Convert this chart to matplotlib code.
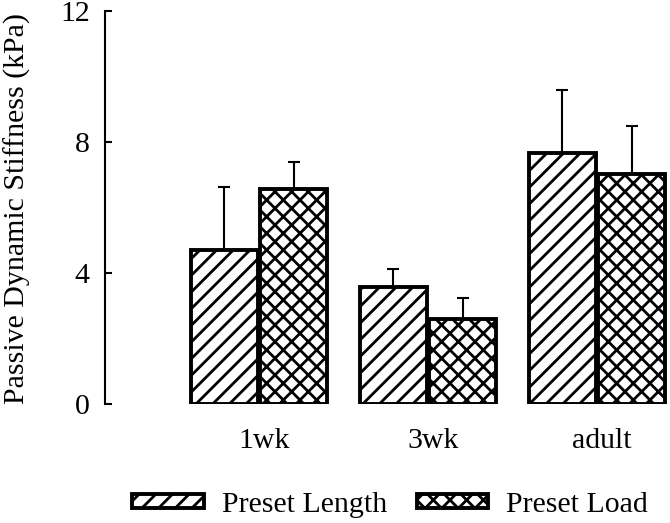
import matplotlib
matplotlib.use("Agg")
import matplotlib.pyplot as plt
import numpy as np

categories = ["1wk", "3wk", "adult"]
length_vals = [4.70, 3.56, 7.66]
length_err = [1.92, 0.56, 1.93]
load_vals = [6.55, 2.61, 7.02]
load_err = [0.83, 0.63, 1.48]
series_names = ["Preset Length", "Preset Load"]
yticks = [0, 4, 8, 12]

plt.rcParams['font.family'] = ['Liberation Serif', 'DejaVu Serif']
plt.rcParams['hatch.linewidth'] = 2.0
plt.rcParams['hatch.color'] = 'black'

fig = plt.figure(figsize=(6.70, 5.23), dpi=100)
ax = fig.add_axes([105/670, (523-404)/523, 1 - 105/670, (404-11)/523])

x = np.arange(len(categories))
w = 0.395
off = 0.205
b1 = ax.bar(x - off, length_vals, w, facecolor='white', edgecolor='black',
            linewidth=2.8, hatch='//', label=series_names[0], zorder=2)
b2 = ax.bar(x + off, load_vals, w, facecolor='white', edgecolor='black',
            linewidth=2.8, hatch='xx', label=series_names[1], zorder=2)
zeros = np.zeros(len(categories))
ax.errorbar(x - off, length_vals, yerr=[zeros, length_err], fmt='none',
            ecolor='black', elinewidth=1.5, capsize=4.5, capthick=1.5, zorder=1)
ax.errorbar(x + off, load_vals, yerr=[zeros, load_err], fmt='none',
            ecolor='black', elinewidth=1.5, capsize=4.5, capthick=1.5, zorder=1)

ax.set_xlim(-0.911, 2.432)
ax.set_ylim(0, 12)
ax.set_yticks(yticks)
ax.set_yticklabels([str(t) for t in yticks])
ax.set_xticks(x + 0.03)
ax.set_xticklabels(categories)
ax.tick_params(axis='x', length=0, pad=17, labelsize=21.5)
ax.tick_params(axis='y', direction='in', length=5, width=1.5, pad=11, labelsize=21.5)
for s in ['top', 'right', 'bottom']:
    ax.spines[s].set_visible(False)
ax.spines['left'].set_linewidth(1.5)
ax.set_ylabel("Passive Dynamic Stiffness (kPa)", fontsize=21.5)
ax.yaxis.set_label_coords((31 - 105) / 565, (523 - 208 - 119) / 393)

fig.legend(handles=[b1, b2], labels=series_names, loc='center',
           bbox_to_anchor=(0.582, 1 - 505/523), ncol=2, frameon=False,
           fontsize=21.5, handlelength=2.4, handleheight=0.35,
           handletextpad=0.6, columnspacing=1.0, borderpad=0)

fig.savefig("out.png", dpi=100)
